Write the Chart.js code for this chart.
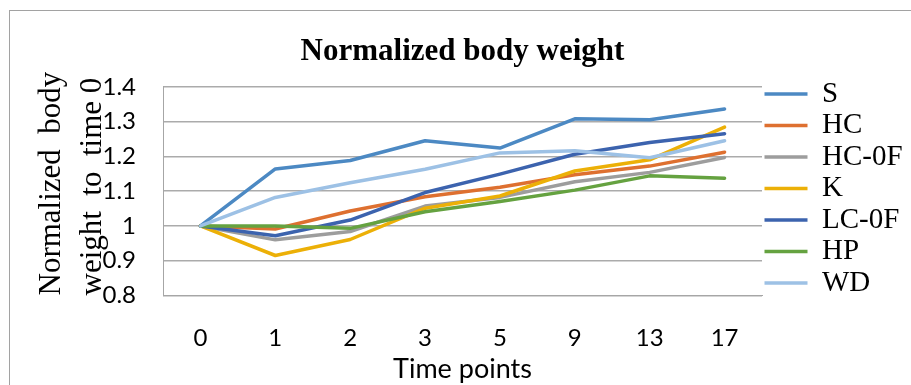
<!DOCTYPE html>
<html lang="en">
<head>
  <meta charset="UTF-8">
  <title>Normalized body weight</title>
  <script src="https://cdn.jsdelivr.net/npm/chart.js"></script>
  <style>
    body { margin: 0; background: #fff; }
    #wrap { position: relative; width: 911px; height: 385px; overflow: hidden; }
    #frame { position: absolute; left: 9px; top: 10px; width: 960px; height: 420px; border: 1px solid #a2a2a2; }
    canvas { position: absolute; left: 0; top: 0; }
  </style>
</head>
<body>
  <div id="wrap">
    <div id="frame"></div>
    <canvas id="weightChart" width="911" height="385"></canvas>
  </div>

  <script>
    // time points (x categories)
    const timePoints = ['0', '1', '2', '3', '5', '9', '13', '17'];

    // body weight relative to time 0, one array per group
    const S    = [1, 1.164, 1.188, 1.245, 1.224, 1.308, 1.305, 1.336];
    const HC   = [1, 0.991, 1.043, 1.084, 1.111, 1.147, 1.172, 1.212];
    const HC0F = [1, 0.960, 0.984, 1.057, 1.082, 1.127, 1.154, 1.197];
    const K    = [1, 0.915, 0.961, 1.051, 1.086, 1.158, 1.190, 1.284];
    const LC0F = [1, 0.972, 1.017, 1.096, 1.149, 1.206, 1.240, 1.265];
    const HP   = [1, 1.000, 0.993, 1.041, 1.070, 1.103, 1.144, 1.137];
    const WD   = [1, 1.082, 1.124, 1.163, 1.210, 1.216, 1.196, 1.245];

    const seriesNames = ['S', 'HC', 'HC-0F', 'K', 'LC-0F', 'HP', 'WD'];
    const seriesData = [S, HC, HC0F, K, LC0F, HP, WD];
    const seriesColors = ['#4c89c3', '#de7030', '#9d9d9d', '#ecb007', '#3c63ae', '#65a240', '#9dc1e5'];

    const yMin = 0.8, yMax = 1.4, yStep = 0.1;

    const serif = "'Liberation Serif', 'Times New Roman', serif";
    const sans = "Lato, 'Liberation Sans', sans-serif";

    const datasets = seriesNames.map((name, i) => ({
      label: name,
      data: seriesData[i],
      borderColor: seriesColors[i],
      backgroundColor: seriesColors[i],
      borderWidth: 3.5,
      borderCapStyle: 'round',
      borderJoinStyle: 'round',
      pointRadius: 0,
      tension: 0,
      order: seriesNames.length - i   // later series on top
    }));

    const ctx = document.getElementById('weightChart').getContext('2d');
    new Chart(ctx, {
      type: 'line',
      data: { labels: timePoints, datasets: datasets },
      options: {
        responsive: false,
        animation: false,
        layout: { padding: { top: 0, left: 0, right: 0, bottom: 8 } },
        plugins: {
          title: {
            display: true,
            text: 'Normalized body weight',
            fullSize: false,
            color: '#000',
            font: { family: serif, size: 31, weight: 'bold', lineHeight: 1.2 },
            padding: { top: 33.5, bottom: 16.1 }
          },
          legend: {
            position: 'right',
            maxWidth: 149,
            labels: {
              usePointStyle: true,
              pointStyle: 'line',
              pointStyleWidth: 43,
              padding: 2.5,
              color: '#000',
              font: { family: serif, size: 29 },
              sort: (a, b) => a.datasetIndex - b.datasetIndex
            }
          },
          tooltip: { enabled: false }
        },
        scales: {
          x: {
            offset: true,
            grid: { display: false },
            border: { display: true, color: '#a6a6a6', width: 1 },
            ticks: { color: '#000', font: { family: sans, size: 24 }, padding: 20 },
            title: {
              display: true,
              text: 'Time points',
              color: '#000',
              font: { family: sans, size: 27, lineHeight: 1.2 },
              padding: { top: 0, bottom: -8 }
            },
            afterFit: (scale) => { scale.height = 81.5; }
          },
          y: {
            min: yMin,
            max: yMax,
            grid: { color: '#ababab', lineWidth: 1.5, drawTicks: false },
            border: { display: true, color: '#a6a6a6', width: 1 },
            ticks: {
              stepSize: yStep,
              padding: 27,
              color: '#000',
              font: { family: sans, size: 24 },
              callback: (v) => String(Math.round(v * 10) / 10)
            },
            title: {
              display: true,
              align: 'start',
              text: ['Normalized  body', 'weight  to  time 0'],
              color: '#000',
              font: { family: serif, size: 31, lineHeight: 1.32 },
              padding: { top: 31, bottom: 0 }
            },
            afterFit: (scale) => { scale.width = 163; }
          }
        }
      }
    });
  </script>
</body>
</html>
